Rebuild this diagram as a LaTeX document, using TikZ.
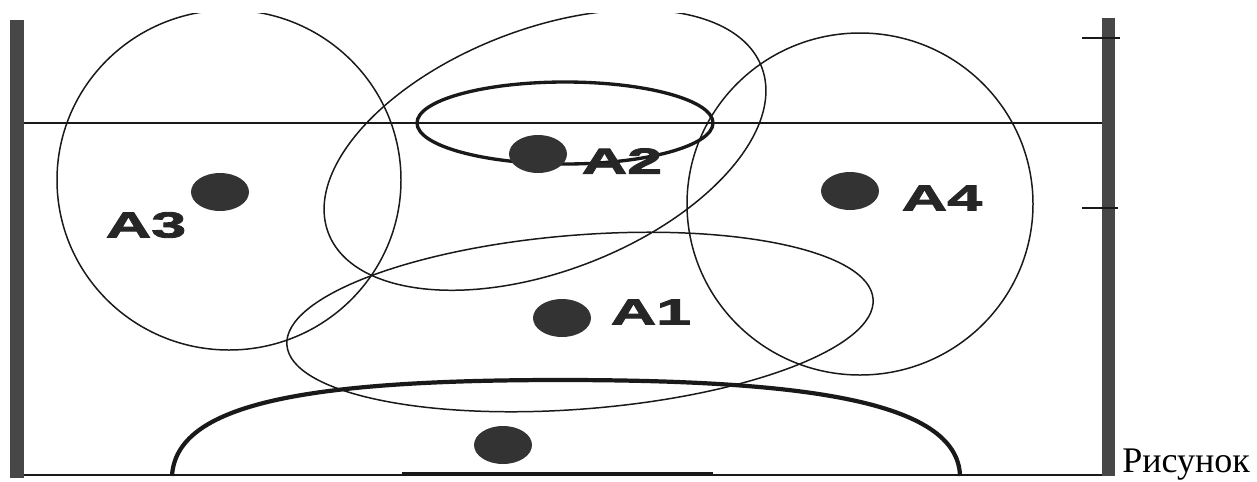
\documentclass[tikz,border=0pt]{standalone}
\usepackage{fontspec}
\setmainfont{Liberation Serif}
\newfontfamily\labelfont[FakeStretch=1.75, FakeBold=2.5]{Liberation Sans}
\usetikzlibrary{shapes.geometric}

\begin{document}
\begin{tikzpicture}[
	x=0.02cm, y=-0.02cm,
	wall/.style={fill=black!72, draw=none},
	courtline/.style={draw=black!90, line width=1.2pt},
	zone/.style={draw=black!90, line width=0.85pt},
	thickzone/.style={draw=black!90, line width=1.9pt},
	goalarc/.style={draw=black!90, line width=2.4pt},
	dot/.style={
		ellipse,
		fill=black!80,
		draw=none,
		inner sep=0pt,
		minimum width=1.16cm,
		minimum height=0.76cm
	},
	player/.style={font=\labelfont\bfseries\fontsize{20.5}{20.5}\selectfont, text=black!85, inner sep=0pt},
	caption/.style={font=\fontsize{20.5}{20.5}\selectfont, inner sep=0pt, anchor=base west}
]
\useasboundingbox (0,0) rectangle (1257,481);

% Стенки и линии площадки
\fill[wall] (10,20) rectangle (24,478);
\fill[wall] (1102,18) rectangle (1115,476);
\draw[courtline] (24,123) -- (1102,123);
\draw[courtline] (24,475) -- (1102,475);
\draw[line width=2pt, black!90] (402,474) -- (713,474);
\draw[courtline] (1082,38) -- (1120,38);
\draw[courtline] (1082,208) -- (1118,208);

% Зоны игроков
\begin{scope}
	\clip (0,13) rectangle (1257,481);
	\draw[zone] (229,180) ellipse [x radius=172, y radius=170];
	\draw[zone] (860,204) ellipse [x radius=173, y radius=171];
	\draw[zone, rotate around={21:(545,150)}] (545,150) ellipse [x radius=232, y radius=121];
	\draw[zone, rotate around={4.5:(580,322)}] (580,322) ellipse [x radius=294, y radius=87];
\end{scope}
\draw[thickzone] (565,123) ellipse [x radius=148, y radius=41];

% Зона вратаря
\draw[goalarc] (172,476) .. controls (176,405) and (300,380) .. (560,380)
	.. controls (800,380) and (958,400) .. (960,476);

% Игроки
\node[dot] (a3dot) at (220,192) {};
\node[dot] (a2dot) at (538,154) {};
\node[dot] (a1dot) at (562,318) {};
\node[dot] (a4dot) at (850,191) {};
\node[dot] (gkdot) at (503,445) {};

\node[player] (a3) at (146,225) {A3};
\node[player] (a2) at (622,161) {A2};
\node[player] (a1) at (651,312) {A1};
\node[player] (a4) at (942,198) {A4};

\node[caption] (cap) at (1122,472) {Рисунок};

\end{tikzpicture}
\end{document}
